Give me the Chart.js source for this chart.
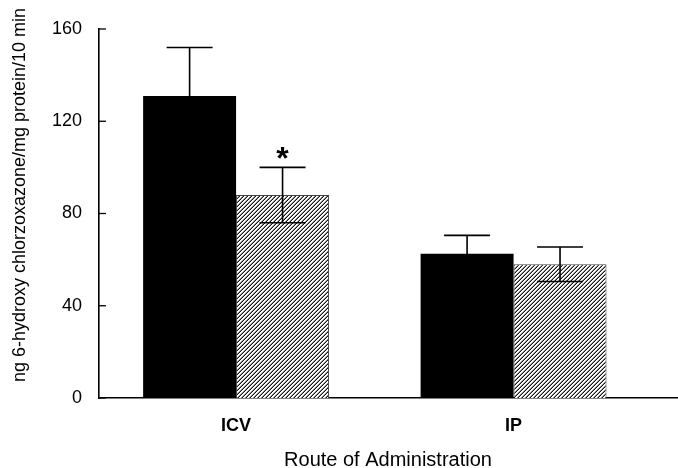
<!DOCTYPE html>
<html><head><meta charset="utf-8">
<script src="https://cdn.jsdelivr.net/npm/chart.js@4"></script>
<style>html,body{margin:0;padding:0;background:#fff}#wrap{width:678px;height:468px}</style>
</head><body><div id="wrap"><canvas id="c" width="678" height="468"></canvas></div>
<script>
const categories = ['ICV', 'IP'];
const seriesNames = ['Group 1', 'Group 2'];
const solidMeans = [131, 62.5];
const solidErrors = [21, 8];
const hatchMeans = [88, 58];
const hatchErrors = [12, 7.5];
const hatchMarks = ['*', ''];
const yTicks = [0, 40, 80, 120, 160];
const yTitle = 'ng 6-hydroxy chlorzoxazone/mg protein/10 min';
const xTitle = 'Route of Administration';

const FONT = '"Liberation Sans", Arial, Helvetica, sans-serif';

function makeHatch() {
  const t = document.createElement('canvas');
  t.width = 4; t.height = 4;
  const g = t.getContext('2d');
  const img = g.createImageData(4, 4);
  for (let y = 0; y < 4; y++) for (let x = 0; x < 4; x++) {
    const k = (x + y) % 4;
    let v = 255;
    if (k === 3) v = 20; else if (k === 2) v = 140;
    const o = (y * 4 + x) * 4;
    img.data[o] = v; img.data[o+1] = v; img.data[o+2] = v; img.data[o+3] = 255;
  }
  g.putImageData(img, 0, 0);
  return document.getElementById('c').getContext('2d').createPattern(t, 'repeat');
}

const errs = [solidErrors, hatchErrors];
const means = [solidMeans, hatchMeans];

const extras = {
  id: 'extras',
  afterDatasetsDraw(chart) {
    const ctx = chart.ctx;
    const ys = chart.scales.y;
    const area = chart.chartArea;
    ctx.save();
    ctx.strokeStyle = '#000';
    ctx.lineWidth = 1.6;
    for (let d = 0; d < 2; d++) {
      const meta = chart.getDatasetMeta(d);
      meta.data.forEach((bar, i) => {
        const m = means[d][i], e = errs[d][i];
        const top = ys.getPixelForValue(m + e);
        const bot = ys.getPixelForValue(m - e);
        const x = bar.x, hw = 23;
        ctx.beginPath();
        ctx.moveTo(x, top); ctx.lineTo(x, bot);
        ctx.moveTo(x - hw, top); ctx.lineTo(x + hw, top);
        ctx.moveTo(x - hw, bot); ctx.lineTo(x + hw, bot);
        ctx.stroke();
        if (d === 1 && hatchMarks[i]) {
          ctx.fillStyle = '#000';
          ctx.font = 'bold 32px ' + FONT;
          ctx.textAlign = 'center';
          ctx.textBaseline = 'alphabetic';
          ctx.fillText(hatchMarks[i], x, top + 2);
        }
      });
    }
    ctx.lineWidth = 1.3;
    ys.ticks.forEach((t, i) => {
      const y = ys.getPixelForTick(i);
      ctx.beginPath();
      ctx.moveTo(area.left, y); ctx.lineTo(area.left + 7, y);
      ctx.stroke();
    });
    ctx.fillStyle = '#000';
    ctx.font = '18px ' + FONT;
    ctx.textAlign = 'center';
    ctx.textBaseline = 'middle';
    ctx.translate(20, 195);
    ctx.rotate(-Math.PI / 2);
    ctx.fillText(yTitle, 0, 0);
    ctx.restore();
  }
};

const hatch = makeHatch();

new Chart(document.getElementById('c'), {
  type: 'bar',
  data: {
    datasets: [
      { label: seriesNames[0], data: categories.map((c, i) => ({ x: i, y: solidMeans[i] })),
        backgroundColor: '#000', borderWidth: 0 },
      { label: seriesNames[1], data: categories.map((c, i) => ({ x: i, y: hatchMeans[i] })),
        backgroundColor: hatch, borderColor: '#444', borderWidth: 1 }
    ]
  },
  options: {
    responsive: false,
    devicePixelRatio: 1,
    animation: false,
    events: [],
    layout: { padding: { left: 0, right: 1, top: 29, bottom: 0 } },
    plugins: { legend: { display: false }, tooltip: { enabled: false } },
    datasets: { bar: { barPercentage: 1, categoryPercentage: 0.67 } },
    scales: {
      x: {
        type: 'linear', offset: false,
        min: -0.494, max: 1.589,
        afterBuildTicks: s => { s.ticks = categories.map((c, i) => ({ value: i })); },
        afterFit: s => { s.height = 70; },
        grid: { display: false, drawTicks: false },
        border: { display: true, color: '#000', width: 1.6 },
        ticks: {
          autoSkip: false, maxRotation: 0, padding: 17, color: '#000',
          font: { family: FONT, size: 18, weight: 'bold' },
          callback: v => categories[v] ?? ''
        },
        title: { display: true, text: xTitle, color: '#000', padding: { top: 0, bottom: -4 },
          font: { family: FONT, size: 20 } }
      },
      y: {
        min: 0, max: 160,
        afterBuildTicks: s => { s.ticks = yTicks.map(v => ({ value: v })); },
        afterFit: s => { s.width = 99; },
        grid: { display: false, drawTicks: false },
        border: { display: true, color: '#000', width: 1.6 },
        ticks: { padding: 17, color: '#000', font: { family: FONT, size: 18 } }
      }
    }
  },
  plugins: [extras]
});
</script></body></html>
